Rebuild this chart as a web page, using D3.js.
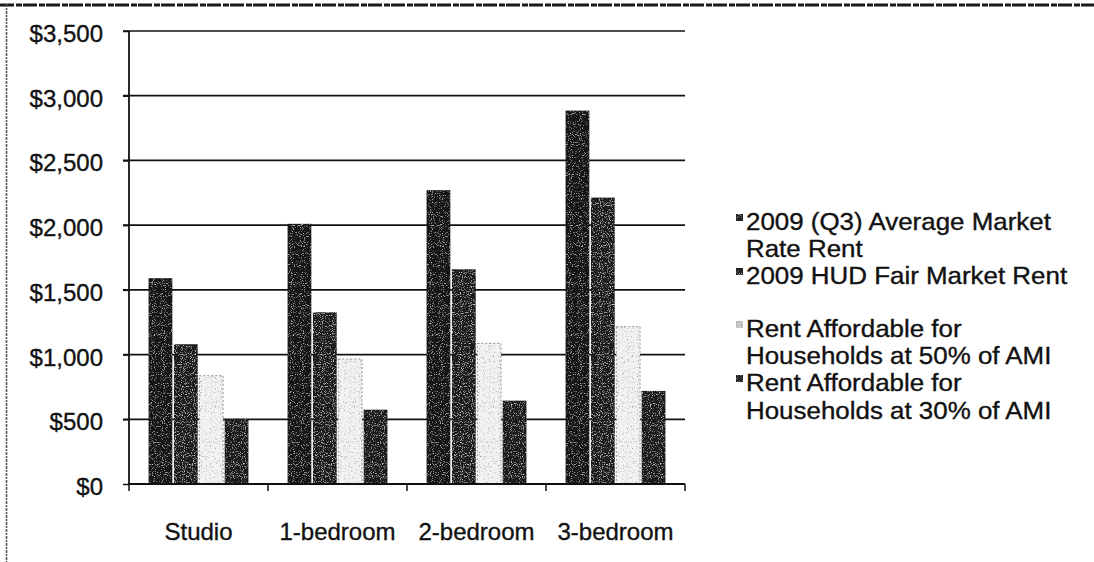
<!DOCTYPE html>
<html>
<head>
<meta charset="utf-8">
<script src="https://cdn.jsdelivr.net/npm/d3@7"></script>
<style>
  html, body { margin: 0; padding: 0; background: #fff; }
  svg { display: block; }
  text { font-family: "Liberation Sans", Arial, sans-serif; fill: #111; stroke: #111; stroke-width: 0.35px; }
</style>
</head>
<body>
<svg id="chart" width="1094" height="562"></svg>
<script>
// ---- data ----
const categories = ["Studio", "1-bedroom", "2-bedroom", "3-bedroom"];
const seriesNames = [
  "2009 (Q3) Average Market Rate Rent",
  "2009 HUD Fair Market Rent",
  "Rent Affordable for Households at 50% of AMI",
  "Rent Affordable for Households at 30% of AMI"
];
const legendLines = [
  ["2009 (Q3) Average Market", "Rate Rent"],
  ["2009 HUD Fair Market Rent"],
  ["Rent Affordable for", "Households at 50% of AMI"],
  ["Rent Affordable for", "Households at 30% of AMI"]
];
const marketRate = [1590, 2010, 2270, 2885];
const hudFMR = [1080, 1327, 1659, 2213];
const ami50 = [837, 966, 1087, 1216];
const ami30 = [502, 574, 644, 719];
const yTicks = [0, 500, 1000, 1500, 2000, 2500, 3000, 3500];

const seriesValues = [marketRate, hudFMR, ami50, ami30];

// ---- layout ----
const svg = d3.select("#chart");
const margin = { left: 129, right: 1094 - 685, top: 31, bottom: 562 - 484 };
const W = 1094, H = 562;

const x0 = d3.scaleBand().domain(categories).range([margin.left, W - margin.right]).padding(0);
const x1 = d3.scaleBand().domain(d3.range(seriesNames.length)).range([0, x0.bandwidth()])
  .paddingInner(0).paddingOuter(0.74);
const y = d3.scaleLinear().domain([0, 3500]).range([H - margin.bottom, margin.top]);

// ---- texture filters ----
const defs = svg.append("defs");
function speckle(id, spotColor, a, b, freq, seed) {
  const f = defs.append("filter").attr("id", id)
    .attr("x", 0).attr("y", 0).attr("width", "100%").attr("height", "100%");
  f.append("feTurbulence").attr("type", "fractalNoise").attr("baseFrequency", freq)
    .attr("numOctaves", 1).attr("seed", seed).attr("result", "n");
  const c = d3.color(spotColor);
  const r = c.r / 255, g = c.g / 255, bb = c.b / 255;
  f.append("feColorMatrix").attr("in", "n").attr("type", "matrix")
    .attr("values", `0 0 0 0 ${r}  0 0 0 0 ${g}  0 0 0 0 ${bb}  ${a} 0 0 0 ${b}`)
    .attr("result", "spots");
  f.append("feComposite").attr("in", "spots").attr("in2", "SourceGraphic")
    .attr("operator", "in").attr("result", "s");
  const m = f.append("feMerge");
  m.append("feMergeNode").attr("in", "SourceGraphic");
  m.append("feMergeNode").attr("in", "s");
}
speckle("sp0", "#9a9a9a", 4, -2.3, 0.9, 2);
speckle("sp1", "#a8a8a8", 4, -2.2, 0.9, 5);
speckle("sp2", "#333333", 4, -2.3, 0.8, 7);
speckle("sp3", "#a0a0a0", 4, -2.25, 0.9, 11);

const fills = ["#151515", "#1f1f1f", "#f2f2f2", "#1c1c1c"];

// ---- frame (scan border) ----
svg.append("line").attr("x1", 0).attr("x2", W).attr("y1", 5).attr("y2", 5)
  .attr("stroke", "#1a1a1a").attr("stroke-width", 3).attr("stroke-dasharray", "14 2 6 1");
svg.append("line").attr("x1", 6.5).attr("x2", 6.5).attr("y1", 4).attr("y2", H)
  .attr("stroke", "#555").attr("stroke-width", 1.6).attr("stroke-dasharray", "3 1 2 1");

// ---- gridlines ----
svg.append("g").selectAll("line").data(yTicks.filter(d => d > 0)).join("line")
  .attr("x1", margin.left - 6).attr("x2", W - margin.right)
  .attr("y1", d => y(d)).attr("y2", d => y(d))
  .attr("stroke", "#111").attr("stroke-width", 1.7);

// ---- bars ----
const groups = svg.append("g").selectAll("g").data(categories).join("g")
  .attr("transform", d => `translate(${x0(d)},0)`);
groups.selectAll("rect")
  .data((c, ci) => seriesValues.map((vals, si) => ({ si, v: vals[ci] })))
  .join("rect")
  .attr("x", d => x1(d.si) + 0.8)
  .attr("width", x1.bandwidth() - 1.6)
  .attr("y", d => y(d.v))
  .attr("height", d => y(0) - y(d.v))
  .attr("fill", d => fills[d.si])
  .attr("filter", d => `url(#sp${d.si})`);
// outline of the light bars
groups.selectAll("rect.o")
  .data((c, ci) => [{ si: 2, v: ami50[ci] }])
  .join("rect").attr("class", "o")
  .attr("x", d => x1(d.si) + 0.8)
  .attr("width", x1.bandwidth() - 1.6)
  .attr("y", d => y(d.v))
  .attr("height", d => y(0) - y(d.v))
  .attr("fill", "none").attr("stroke", "#777").attr("stroke-width", 0.8)
  .attr("stroke-dasharray", "2 2");

// ---- axes ----
const yAxis = svg.append("g").attr("transform", `translate(${margin.left},0)`)
  .call(d3.axisLeft(y).tickValues(yTicks).tickSize(6).tickPadding(20)
    .tickFormat(d => "$" + d3.format(",")(d)));
yAxis.select(".domain").attr("stroke", "#111").attr("stroke-width", 1.8)
  .attr("d", `M0,${y(3500)}V${y(0)}`);
yAxis.selectAll(".tick line").attr("stroke", "#111").attr("stroke-width", 1.5);
yAxis.selectAll(".tick text").attr("font-size", 24).attr("dy", "0.44em")
  .attr("x", 103 - margin.left).attr("fill", "#111");

const xAxis = svg.append("g").attr("transform", `translate(0,${y(0)})`)
  .call(d3.axisBottom(x0).tickSize(0).tickPadding(0));
xAxis.select(".domain").attr("stroke", "#111").attr("stroke-width", 1.8)
  .attr("d", `M${margin.left},0H${W - margin.right}`);
xAxis.selectAll(".tick text").attr("font-size", 24).attr("y", 56).attr("dy", 0).attr("fill", "#111");
// boundary ticks between categories
const bounds = categories.map(c => x0(c)).concat([x0(categories[categories.length - 1]) + x0.bandwidth()]);
xAxis.selectAll("line.b").data(bounds).join("line").attr("class", "b")
  .attr("x1", d => d).attr("x2", d => d).attr("y1", 0).attr("y2", 7)
  .attr("stroke", "#111").attr("stroke-width", 1.5);

// ---- legend ----
const legendX = 746;
const legendY = [230, 284, 337, 391];
const lineGap = [27, 0, 27, 28];
const leg = svg.append("g");
legendLines.forEach((lines, i) => {
  leg.append("rect")
    .attr("x", legendX - 10).attr("y", legendY[i] - 16)
    .attr("width", 7).attr("height", 7)
    .attr("fill", i === 2 ? "#c8c8c8" : "#222")
    .attr("filter", `url(#sp${i})`);
  const t = leg.append("text")
    .attr("transform", `translate(${legendX},${legendY[i]}) scale(1.08,1)`)
    .attr("font-size", 24);
  lines.forEach((ln, j) => {
    t.append("tspan").attr("x", 0).attr("y", j === 0 ? 0 : lineGap[i]).text(ln);
  });
});
</script>
</body>
</html>
